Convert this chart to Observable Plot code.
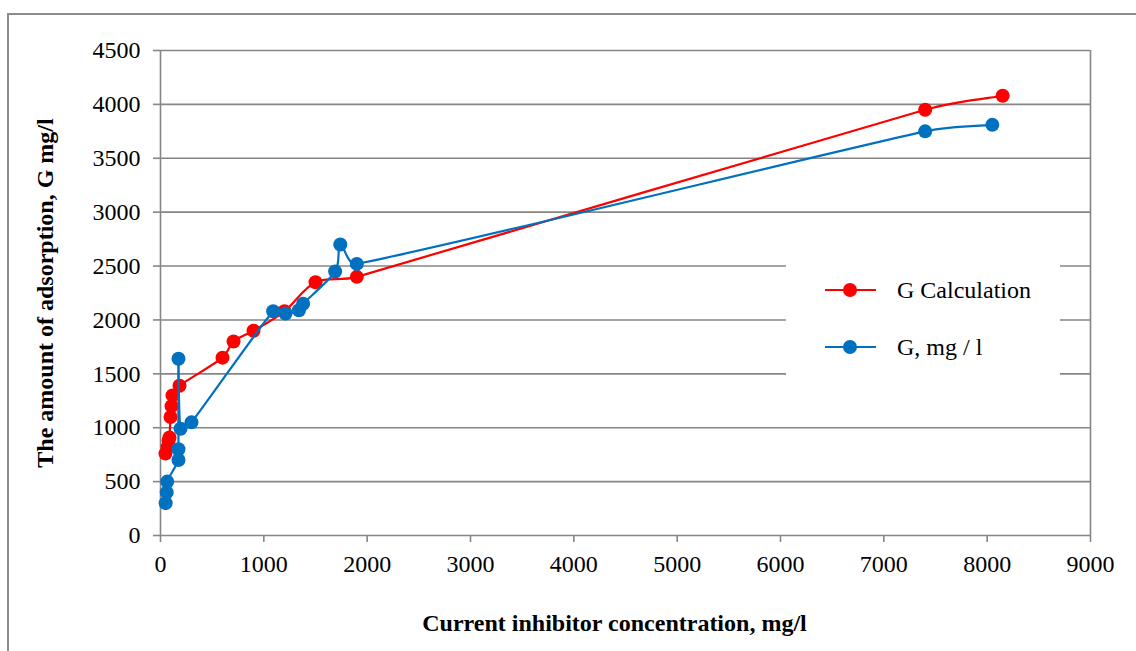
<!DOCTYPE html>
<html>
<head>
<meta charset="utf-8">
<script src="https://cdn.jsdelivr.net/npm/d3@7"></script>
<script src="https://cdn.jsdelivr.net/npm/@observablehq/plot@0.6"></script>
<style>
  html, body { margin: 0; padding: 0; background: #fff; overflow: hidden; }
  #frame { position: absolute; left: 7px; top: 13px; width: 1140px; height: 650px; border: 2px solid #8c8c8c; box-sizing: border-box; }
  #chart { position: absolute; left: 0; top: 0; }
  #legend { position: absolute; left: 786px; top: 262px; width: 274px; height: 116px; background: #fff; }
</style>
</head>
<body>
<div id="frame"></div>
<div id="chart"></div>
<div id="legend"></div>
<script>
// Series "G Calculation"
const calcX = [48, 68, 78, 87, 97, 107, 116, 184, 600, 707, 900, 1200, 1500, 1900, 7400, 8150];
const calcY = [760, 820, 880, 910, 1100, 1200, 1300, 1390, 1650, 1800, 1900, 2080, 2350, 2400, 3950, 4080];
// Series "G, mg / l"
const gX = [50, 60, 65, 174, 174, 174, 194, 300, 1090, 1210, 1340, 1380, 1690, 1740, 1900, 7400, 8050];
const gY = [300, 400, 500, 700, 800, 1640, 990, 1050, 2080, 2060, 2090, 2150, 2450, 2700, 2520, 3750, 3810];
// Axis ticks
const xTicks = [0, 1000, 2000, 3000, 4000, 5000, 6000, 7000, 8000, 9000];
const yTicks = [0, 500, 1000, 1500, 2000, 2500, 3000, 3500, 4000, 4500];
const seriesNames = ["G Calculation", "G, mg / l"];
const seriesColors = ["#ff0000", "#0070c0"];
const xTitle = "Current inhibitor concentration, mg/l";
const yTitle = "The amount of adsorption, G mg/l";

const calc = calcX.map((x, i) => ({x, y: calcY[i]}));
const g = gX.map((x, i) => ({x, y: gY[i]}));
const gridColor = "#868686";
const FONT = "Liberation Serif, serif";

// Spreadsheet-style smoothed line: Catmull-Rom tangents with arms clamped to the segment length
function smoothCurve(context) {
  let pts = [];
  return {
    areaStart() {}, areaEnd() {},
    lineStart() { pts = []; },
    point(x, y) { pts.push([+x, +y]); },
    lineEnd() {
      const n = pts.length;
      if (!n) return;
      context.moveTo(pts[0][0], pts[0][1]);
      for (let i = 0; i < n - 1; i++) {
        const p0 = pts[Math.max(0, i - 1)], p1 = pts[i], p2 = pts[i + 1], p3 = pts[Math.min(n - 1, i + 2)];
        const seg = Math.hypot(p2[0] - p1[0], p2[1] - p1[1]);
        const clamp = (v) => {
          const l = Math.hypot(v[0], v[1]);
          const m = seg * 0.4;
          return l > m && l > 0 ? [v[0] * m / l, v[1] * m / l] : v;
        };
        const a1 = clamp([(p2[0] - p0[0]) / 6, (p2[1] - p0[1]) / 6]);
        const a2 = clamp([(p3[0] - p1[0]) / 6, (p3[1] - p1[1]) / 6]);
        context.bezierCurveTo(p1[0] + a1[0], p1[1] + a1[1], p2[0] - a2[0], p2[1] - a2[1], p2[0], p2[1]);
      }
    }
  };
}

const chart = Plot.plot({
  width: 1136,
  height: 651,
  marginLeft: 160,
  marginRight: 46,
  marginTop: 50,
  marginBottom: 116,
  style: {fontFamily: FONT, fontSize: "24px", background: "transparent", color: "#000"},
  x: {domain: [0, 9000]},
  y: {domain: [0, 4500]},
  marks: [
    Plot.gridY(yTicks, {stroke: gridColor, strokeOpacity: 1, strokeWidth: 1.6}),
    Plot.ruleX([0, 9000], {stroke: gridColor, strokeWidth: 1.6}),
    Plot.axisX(xTicks, {tickSize: 7, tickPadding: 12, stroke: gridColor, strokeWidth: 1.6, fill: "#000", fontSize: 24, tickFormat: d => String(d), label: null}),
    Plot.axisY(yTicks, {tickSize: 7, tickPadding: 13, stroke: gridColor, strokeWidth: 1.6, fill: "#000", fontSize: 24, tickFormat: d => String(d), label: null}),
    Plot.line(calc, {x: "x", y: "y", stroke: seriesColors[0], strokeWidth: 2.2, curve: smoothCurve}),
    Plot.dot(calc, {x: "x", y: "y", r: 7, fill: seriesColors[0], stroke: "none"}),
    Plot.line(g, {x: "x", y: "y", stroke: seriesColors[1], strokeWidth: 2.2, curve: smoothCurve}),
    Plot.dot(g, {x: "x", y: "y", r: 7, fill: seriesColors[1], stroke: "none"}),
    Plot.text([xTitle], {frameAnchor: "bottom", dx: -11, dy: 88, text: d => d, fontWeight: "bold", fontSize: 24, textAnchor: "middle", lineAnchor: "middle"}),
    Plot.text([yTitle], {frameAnchor: "left", dx: -115, rotate: -90, text: d => d, fontWeight: "bold", fontSize: 24, textAnchor: "middle", lineAnchor: "middle"})
  ]
});
document.getElementById("chart").appendChild(chart);

// Legend
const leg = d3.select("#legend").append("svg").attr("width", 274).attr("height", 116);
seriesNames.forEach((name, i) => {
  const cy = 28 + i * 57;
  leg.append("line").attr("x1", 39).attr("x2", 90).attr("y1", cy).attr("y2", cy)
    .attr("stroke", seriesColors[i]).attr("stroke-width", 2.2);
  leg.append("circle").attr("cx", 64).attr("cy", cy).attr("r", 7).attr("fill", seriesColors[i]);
  leg.append("text").attr("x", 111).attr("y", cy).attr("dy", "0.35em")
    .attr("font-family", FONT).attr("font-size", 24).text(name);
});
</script>
</body>
</html>
